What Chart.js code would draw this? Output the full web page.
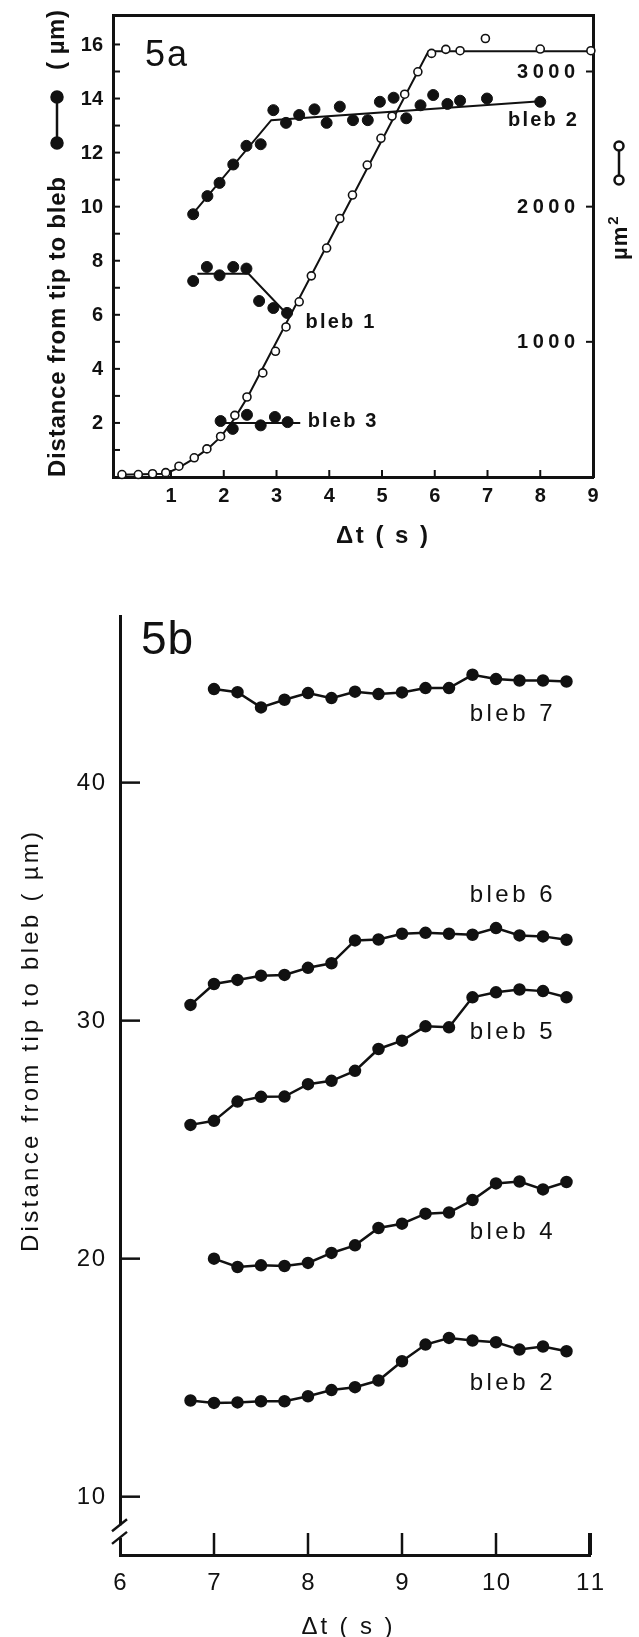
<!DOCTYPE html>
<html>
<head>
<meta charset="utf-8">
<script src="https://cdn.jsdelivr.net/npm/chart.js@4.4.1/dist/chart.umd.min.js"></script>
<style>
  html, body { margin: 0; padding: 0; background: #fff; }
  #wrap { position: relative; width: 639px; height: 1637px; overflow: hidden; }
  canvas { position: absolute; left: 0; }
  #chartA { top: 0; }
  #chartB { top: 560px; }
</style>
</head>
<body>
<div id="wrap">
  <canvas id="chartA" width="639" height="560"></canvas>
  <canvas id="chartB" width="639" height="1077"></canvas>
</div>
<script>
// ---- 5a: bleb distance (µm, left axis) and area (µm², right axis) ----
const areaT = [0.07, 0.38, 0.65, 0.9, 1.15, 1.44, 1.68, 1.94, 2.21, 2.44, 2.74, 2.98, 3.18, 3.43, 3.66, 3.95, 4.2, 4.44, 4.72, 4.98, 5.19, 5.43, 5.68, 5.94, 6.21, 6.48, 6.96, 8.0, 8.96];
const areaUm2 = [18, 18, 24, 32, 80, 142, 208, 300, 456, 592, 770, 930, 1110, 1296, 1488, 1694, 1912, 2086, 2308, 2506, 2670, 2832, 2998, 3134, 3164, 3154, 3244, 3166, 3154];
const areaFitT = [0, 0.9, 1.15, 1.45, 1.7, 1.95, 2.2, 2.45, 5.88, 9.0];
const areaFitUm2 = [16, 24, 70, 140, 210, 300, 430, 590, 3150, 3150];

const a2T = [1.42, 1.69, 1.92, 2.18, 2.43, 2.7, 2.94, 3.18, 3.43, 3.72, 3.95, 4.2, 4.45, 4.73, 4.96, 5.22, 5.46, 5.73, 5.97, 6.24, 6.48, 6.99, 8.0];
const a2D = [9.72, 10.39, 10.88, 11.56, 12.25, 12.31, 13.57, 13.1, 13.39, 13.6, 13.1, 13.7, 13.2, 13.2, 13.88, 14.03, 13.27, 13.75, 14.13, 13.8, 13.92, 14.0, 13.88];
const a2FitT = [1.42, 2.9, 8.0];
const a2FitD = [9.75, 13.2, 13.9];

const a1T = [1.42, 1.68, 1.92, 2.18, 2.43, 2.67, 2.94, 3.2];
const a1D = [7.25, 7.77, 7.46, 7.77, 7.71, 6.51, 6.25, 6.07];
const a1FitT = [1.5, 2.47, 3.2];
const a1FitD = [7.52, 7.52, 6.02];

const a3T = [1.94, 2.17, 2.44, 2.7, 2.97, 3.21];
const a3D = [2.07, 1.78, 2.3, 1.91, 2.22, 2.03];
const a3FitT = [1.94, 3.45];
const a3FitD = [2.0, 2.0];

const aXTicks = [1, 2, 3, 4, 5, 6, 7, 8, 9];
const aYTicks = [1, 2, 3, 4, 5, 6, 7, 8, 9, 10, 11, 12, 13, 14, 15, 16];
const aYLabels = [2, 4, 6, 8, 10, 12, 14, 16];
const aY2Labels = [1000, 2000, 3000];

// ---- 5b: distance from tip to bleb ----
const bT17 = [6.75, 7.0, 7.25, 7.5, 7.75, 8.0, 8.25, 8.5, 8.75, 9.0, 9.25, 9.5, 9.75, 10.0, 10.25, 10.5, 10.75];
const bT16 = [7.0, 7.25, 7.5, 7.75, 8.0, 8.25, 8.5, 8.75, 9.0, 9.25, 9.5, 9.75, 10.0, 10.25, 10.5, 10.75];
const bleb7 = [43.93, 43.8, 43.16, 43.48, 43.76, 43.55, 43.82, 43.72, 43.79, 43.97, 43.97, 44.53, 44.35, 44.29, 44.29, 44.25];
const bleb6 = [30.66, 31.54, 31.71, 31.89, 31.92, 32.22, 32.41, 33.37, 33.41, 33.65, 33.69, 33.65, 33.61, 33.89, 33.58, 33.54, 33.4];
const bleb5 = [25.62, 25.79, 26.6, 26.8, 26.81, 27.33, 27.47, 27.89, 28.81, 29.16, 29.76, 29.72, 30.98, 31.19, 31.31, 31.24, 30.98];
const bleb4 = [20.0, 19.65, 19.72, 19.69, 19.82, 20.24, 20.56, 21.29, 21.47, 21.89, 21.94, 22.46, 23.16, 23.24, 22.91, 23.22];
const bleb2 = [14.04, 13.94, 13.96, 14.01, 14.01, 14.22, 14.48, 14.6, 14.88, 15.69, 16.39, 16.67, 16.56, 16.49, 16.18, 16.31, 16.11];

const bXTicks = [7, 8, 9, 10, 11];
const bXLabels = [6, 7, 8, 9, 10, 11];
const bYLabels = [10, 20, 30, 40];

const INK = '#111';
const FONT = '"Liberation Sans", Arial, sans-serif';

const pts = (xs, ys) => xs.map((x, i) => ({ x, y: ys[i] }));

function spaced(ctx, text, x, y, gap, align) {
  const chars = [...text];
  const widths = chars.map(c => ctx.measureText(c).width);
  const total = widths.reduce((a, b) => a + b, 0) + gap * (chars.length - 1);
  let cx = align === 'right' ? x - total : align === 'center' ? x - total / 2 : x;
  ctx.textAlign = 'left';
  chars.forEach((c, i) => { ctx.fillText(c, cx, y); cx += widths[i] + gap; });
}

// spread text so it covers `length` px, centred on x
function fitted(ctx, text, x, y, length) {
  const chars = [...text];
  const w = chars.reduce((a, c) => a + ctx.measureText(c).width, 0);
  spaced(ctx, text, x, y, (length - w) / (chars.length - 1), 'center');
}

function rotated(ctx, x, y, draw) {
  ctx.save();
  ctx.translate(x, y);
  ctx.rotate(-Math.PI / 2);
  draw();
  ctx.restore();
}

function seg(ctx, x1, y1, x2, y2) {
  ctx.beginPath(); ctx.moveTo(x1, y1); ctx.lineTo(x2, y2); ctx.stroke();
}

function dumbbell(ctx, x, y1, y2, r, filled) {
  seg(ctx, x, y1, x, y2);
  [y1, y2].forEach(y => {
    ctx.beginPath(); ctx.arc(x, y, r, 0, Math.PI * 2);
    ctx.fillStyle = filled ? INK : '#fff';
    ctx.fill(); ctx.stroke();
  });
  ctx.fillStyle = INK;
}

function plainAxis(extra) {
  return Object.assign({
    type: 'linear',
    display: true,
    grid: { display: false, drawTicks: false },
    ticks: { display: false },
    border: { display: true, color: INK, width: 3 }
  }, extra);
}

const filledDots = (data, extra) => Object.assign({
  data, showLine: false, pointRadius: 5.5, pointBackgroundColor: INK, pointBorderColor: INK, pointBorderWidth: 1, clip: false
}, extra);
const fitLine = (data, extra) => Object.assign({
  data, showLine: true, pointRadius: 0, borderColor: INK, borderWidth: 2, clip: false
}, extra);

const panelA = {
  id: 'panelA',
  afterDraw(chart) {
    const { ctx, chartArea: area, scales: { x, y, y2 } } = chart;
    ctx.save();
    ctx.strokeStyle = INK; ctx.fillStyle = INK; ctx.lineWidth = 2;
    aYTicks.forEach(v => { const p = y.getPixelForValue(v); seg(ctx, area.left, p, area.left + 7, p); });
    aXTicks.forEach(v => { const p = x.getPixelForValue(v); seg(ctx, p, area.bottom, p, area.bottom - 7); });
    aY2Labels.forEach(v => { const p = y2.getPixelForValue(v); seg(ctx, area.right, p, area.right - 7, p); });

    ctx.font = `bold 20px ${FONT}`; ctx.textBaseline = 'middle';
    aYLabels.forEach(v => spaced(ctx, String(v), area.left - 10, y.getPixelForValue(v) + 1, 0, 'right'));
    aXTicks.forEach(v => spaced(ctx, String(v), x.getPixelForValue(v), area.bottom + 19, 0, 'center'));
    aY2Labels.forEach(v => spaced(ctx, String(v), area.right - 18, y2.getPixelForValue(v) + 1, 4.5, 'right'));

    spaced(ctx, 'bleb 2', x.getPixelForValue(7.39), y.getPixelForValue(13.2), 2.2, 'left');
    spaced(ctx, 'bleb 1', x.getPixelForValue(3.55), y.getPixelForValue(5.73), 2.2, 'left');
    spaced(ctx, 'bleb 3', x.getPixelForValue(3.59), y.getPixelForValue(2.05), 2.2, 'left');

    ctx.font = `36px ${FONT}`;
    spaced(ctx, '5a', area.left + 53, area.top + 41, 2, 'center');

    ctx.font = `bold 24px ${FONT}`;
    fitted(ctx, 'Δt ( s )', x.getPixelForValue(5), area.bottom + 59, 92);

    ctx.textBaseline = 'alphabetic';
    rotated(ctx, 65, 327, () => fitted(ctx, 'Distance from tip to bleb', 0, 0, 300));
    rotated(ctx, 64, 40, () => fitted(ctx, '( µm)', 0, 0, 60));
    ctx.lineWidth = 2.5;
    dumbbell(ctx, 57, 97, 143, 5.5, true);
    dumbbell(ctx, 619, 146, 180, 4.5, false);
    rotated(ctx, 627, 260, () => {
      ctx.font = `bold 22px ${FONT}`;
      spaced(ctx, 'µm', 0, 0, 1, 'left');
      const w = ctx.measureText('µm').width + 3;
      ctx.font = `bold 15px ${FONT}`;
      ctx.fillText('2', w, -9);
    });
    ctx.restore();
  }
};

new Chart(document.getElementById('chartA'), {
  type: 'scatter',
  data: {
    datasets: [
      { data: pts(areaT, areaUm2), yAxisID: 'y2', showLine: false, pointRadius: 4, pointBackgroundColor: '#fff', pointBorderColor: INK, pointBorderWidth: 1.6, clip: false },
      filledDots(pts(a2T, a2D)),
      filledDots(pts(a1T, a1D)),
      filledDots(pts(a3T, a3D)),
      fitLine(pts(areaFitT, areaFitUm2), { yAxisID: 'y2' }),
      fitLine(pts(a2FitT, a2FitD)),
      fitLine(pts(a1FitT, a1FitD)),
      fitLine(pts(a3FitT, a3FitD))
    ]
  },
  options: {
    responsive: false,
    animation: false,
    devicePixelRatio: 1,
    events: [],
    layout: { padding: { left: 113, right: 46, top: 15, bottom: 83 } },
    plugins: { legend: { display: false }, tooltip: { enabled: false } },
    scales: {
      x: plainAxis({ position: 'bottom', min: -0.1, max: 9 }),
      x2: plainAxis({ position: 'top', min: -0.1, max: 9 }),
      y: plainAxis({ position: 'left', min: 0, max: 17.09 }),
      y2: plainAxis({ position: 'right', min: 0, max: 3418 })
    }
  },
  plugins: [panelA]
});

const panelB = {
  id: 'panelB',
  afterDraw(chart) {
    const { ctx, chartArea: area, scales: { x, y } } = chart;
    ctx.save();
    ctx.strokeStyle = INK; ctx.fillStyle = INK; ctx.lineWidth = 2.5;
    bYLabels.forEach(v => { const p = y.getPixelForValue(v); seg(ctx, area.left, p, area.left + 20, p); });
    bXTicks.forEach(v => {
      const p = x.getPixelForValue(v);
      ctx.lineWidth = v === 11 ? 4 : 2.5;
      seg(ctx, p, area.bottom, p, area.bottom - 22);
    });

    // axis break
    const b1 = y.getPixelForValue(8.8), b2 = y.getPixelForValue(8.27);
    ctx.fillStyle = '#fff';
    ctx.fillRect(area.left - 4, b1, 8, b2 - b1);
    ctx.fillStyle = INK; ctx.lineWidth = 2.5;
    [b1, b2].forEach(p => seg(ctx, area.left - 8, p + 6, area.left + 7, p - 6));

    ctx.font = `24px ${FONT}`; ctx.textBaseline = 'middle';
    bYLabels.forEach(v => spaced(ctx, String(v), area.left - 15, y.getPixelForValue(v) + 1, 1.5, 'right'));
    bXLabels.forEach(v => spaced(ctx, String(v), x.getPixelForValue(v), area.bottom + 28, 1.5, 'center'));

    [['bleb 7', 42.85], ['bleb 6', 35.27], ['bleb 5', 29.5], ['bleb 4', 21.12], ['bleb 2', 14.76]]
      .forEach(([name, at]) => spaced(ctx, name, x.getPixelForValue(9.72), y.getPixelForValue(at), 3.5, 'left'));

    ctx.font = `46px ${FONT}`;
    spaced(ctx, '5b', area.left + 47, area.top + 25, 1, 'center');

    ctx.font = `24px ${FONT}`;
    fitted(ctx, 'Δt ( s )', 347, area.bottom + 72, 91);

    ctx.textBaseline = 'alphabetic';
    rotated(ctx, 38, 482, () => fitted(ctx, 'Distance from tip to bleb ( µm)', 0, 0, 420));
    ctx.restore();
  }
};

const bStyle = { showLine: true, borderColor: INK, borderWidth: 2.5, pointRadius: 5, pointBackgroundColor: INK, pointBorderColor: INK, clip: false };

new Chart(document.getElementById('chartB'), {
  type: 'scatter',
  data: {
    datasets: [
      Object.assign({ data: pts(bT16, bleb7) }, bStyle),
      Object.assign({ data: pts(bT17, bleb6) }, bStyle),
      Object.assign({ data: pts(bT17, bleb5) }, bStyle),
      Object.assign({ data: pts(bT16, bleb4) }, bStyle),
      Object.assign({ data: pts(bT17, bleb2) }, bStyle)
    ]
  },
  options: {
    responsive: false,
    animation: false,
    devicePixelRatio: 1,
    events: [],
    layout: { padding: { left: 120, right: 49, top: 56, bottom: 82 } },
    plugins: { legend: { display: false }, tooltip: { enabled: false } },
    scales: {
      x: plainAxis({ position: 'bottom', min: 6, max: 11 }),
      y: plainAxis({ position: 'left', min: 7.55, max: 47.0 })
    }
  },
  plugins: [panelB]
});
</script>
</body>
</html>
